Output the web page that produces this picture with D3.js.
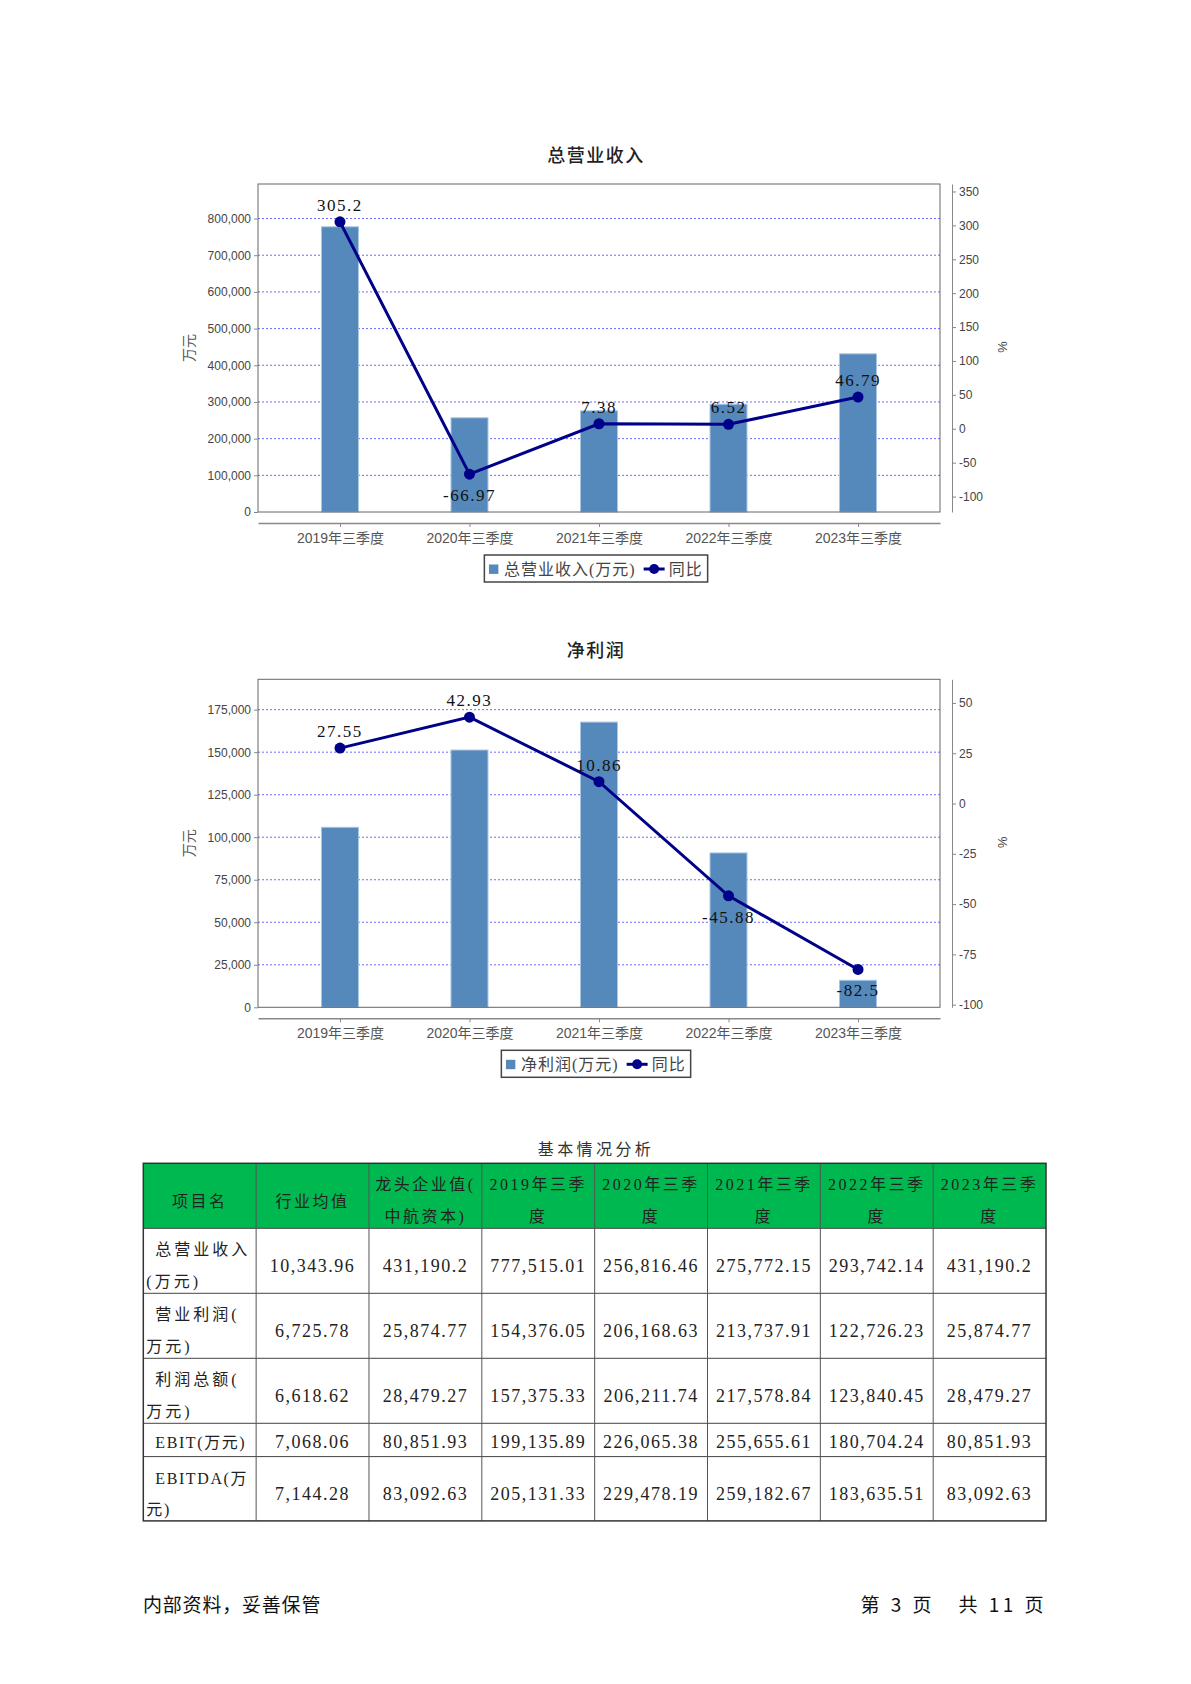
<!DOCTYPE html>
<html>
<head>
<meta charset="utf-8">
<script src="https://cdn.jsdelivr.net/npm/d3@7"></script>
<style>
  body { margin: 0; background: #fff; }
</style>
</head>
<body>
<div id="page"></div>
<script>
const width = 1191;
const height = 1684;

const categories = ["2019年三季度", "2020年三季度", "2021年三季度", "2022年三季度", "2023年三季度"];

const revenue = [777515.01, 256816.46, 275772.15, 293742.14, 431190.2];
const revenueYoY = [305.2, -66.97, 7.38, 6.52, 46.79];
const revenueTicks = [0, 100000, 200000, 300000, 400000, 500000, 600000, 700000, 800000];
const revenueYoYTicks = [-100, -50, 0, 50, 100, 150, 200, 250, 300, 350];

const netProfit = [105840, 151270, 167700, 90760, 15880];
const netProfitYoY = [27.55, 42.93, 10.86, -45.88, -82.5];
const netProfitTicks = [0, 25000, 50000, 75000, 100000, 125000, 150000, 175000];
const netProfitYoYTicks = [-100, -75, -50, -25, 0, 25, 50];

const tableTitle = "基本情况分析";
const tableHeader = ["项目名", "行业均值", "龙头企业值(\n中航资本)", "2019年三季\n度", "2020年三季\n度", "2021年三季\n度", "2022年三季\n度", "2023年三季\n度"];
const rowLabels = ["总营业收入\n(万元)", "营业利润(\n万元)", "利润总额(\n万元)", "EBIT(万元)", "EBITDA(万\n元)"];
const rowValues = [
    ["10,343.96", "431,190.2", "777,515.01", "256,816.46", "275,772.15", "293,742.14", "431,190.2"],
    ["6,725.78", "25,874.77", "154,376.05", "206,168.63", "213,737.91", "122,726.23", "25,874.77"],
    ["6,618.62", "28,479.27", "157,375.33", "206,211.74", "217,578.84", "123,840.45", "28,479.27"],
    ["7,068.06", "80,851.93", "199,135.89", "226,065.38", "255,655.61", "180,704.24", "80,851.93"],
    ["7,144.28", "83,092.63", "205,131.33", "229,478.19", "259,182.67", "183,635.51", "83,092.63"]
];

const SANS = "'Liberation Sans', 'Noto Sans CJK SC', sans-serif";
const CJK = "'Noto Sans CJK SC', sans-serif";
const SERIF = "'Liberation Serif', 'Noto Sans CJK SC', serif";

const svg = d3.select("#page")
    .append("svg")
    .attr("width", width)
    .attr("height", height);

function drawChart({ dy, title, barValues, yoyValues, leftTicks, rightTicks, barLabel }) {
    const left = 258, right = 940, top = 184 + dy, bottom = 512 + dy;
    const g = svg.append("g");

    const x = d3.scalePoint().domain(categories).range([left, right]).padding(0.633);
    const yBar = d3.scaleLinear().domain([0, d3.max(barValues) * 1.15]).range([bottom, top]);
    const [lo, hi] = d3.extent(yoyValues);
    const m = (hi - lo) * 0.15;
    const yPct = d3.scaleLinear().domain([lo - m, hi + m]).range([bottom, top]);

    g.append("text")
        .attr("x", 596).attr("y", 162 + dy)
        .attr("text-anchor", "middle")
        .attr("font-family", CJK).attr("font-size", 18)
        .attr("font-weight", 500)
        .attr("letter-spacing", 1.5)
        .attr("fill", "#222")
        .text(title);

    // gridlines
    g.selectAll(".grid")
        .data(leftTicks.filter(d => d > 0))
        .join("line")
        .attr("x1", left).attr("x2", right)
        .attr("y1", d => yBar(d)).attr("y2", d => yBar(d))
        .attr("stroke", "#6b6bff").attr("stroke-width", 1)
        .attr("stroke-dasharray", "2,2");

    // bars
    g.selectAll(".bar")
        .data(barValues)
        .join("rect")
        .attr("x", (d, i) => x(categories[i]) - 18.5)
        .attr("width", 37)
        .attr("y", d => yBar(d))
        .attr("height", d => bottom - yBar(d))
        .attr("fill", "#5588bb")
        .attr("stroke", "#a9c6e3").attr("stroke-width", 1);

    // plot frame
    g.append("rect")
        .attr("x", left).attr("y", top)
        .attr("width", right - left).attr("height", bottom - top)
        .attr("fill", "none").attr("stroke", "#666").attr("stroke-width", 1);

    // left axis
    const axL = g.append("g")
        .attr("transform", `translate(${left},0)`)
        .call(d3.axisLeft(yBar).tickValues(leftTicks).tickSize(4).tickSizeOuter(0).tickPadding(3)
            .tickFormat(d3.format(",")));
    axL.select(".domain").remove();
    axL.selectAll("line").attr("stroke", "#888");
    axL.selectAll("text").attr("font-family", SANS).attr("font-size", 12).attr("fill", "#444");

    // right axis
    const axR = g.append("g")
        .attr("transform", "translate(952,0)")
        .call(d3.axisRight(yPct).tickValues(rightTicks).tickSize(4).tickSizeOuter(0).tickPadding(3)
            .tickFormat(d => String(d)));
    axR.select(".domain").attr("stroke", "#888");
    axR.selectAll("line").attr("stroke", "#888");
    axR.selectAll("text").attr("font-family", SANS).attr("font-size", 12).attr("fill", "#444");

    // category axis
    const axX = g.append("g")
        .attr("transform", `translate(0,${bottom + 11})`)
        .call(d3.axisBottom(x).tickSize(4).tickSizeOuter(0).tickPadding(6));
    axX.select(".domain").attr("stroke", "#888").attr("stroke-width", 1.5);
    axX.selectAll("line").attr("stroke", "#888");
    axX.selectAll("text").attr("font-family", SANS).attr("font-size", 14).attr("fill", "#555");

    // axis titles
    g.append("text")
        .attr("transform", `translate(194,${348 + dy}) rotate(-90)`)
        .attr("text-anchor", "middle")
        .attr("font-family", CJK).attr("font-size", 14).attr("fill", "#555")
        .text("万元");
    g.append("text")
        .attr("transform", `translate(998,${347 + dy}) rotate(90)`)
        .attr("text-anchor", "middle")
        .attr("font-family", SANS).attr("font-size", 13).attr("fill", "#444")
        .text("%");

    // yoy line
    const line = d3.line()
        .x((d, i) => x(categories[i]))
        .y(d => yPct(d));
    g.append("path")
        .datum(yoyValues)
        .attr("d", line)
        .attr("fill", "none")
        .attr("stroke", "#000088").attr("stroke-width", 3);
    g.selectAll(".pt")
        .data(yoyValues)
        .join("circle")
        .attr("cx", (d, i) => x(categories[i]))
        .attr("cy", d => yPct(d))
        .attr("r", 5.5)
        .attr("fill", "#000088");
    g.selectAll(".lbl")
        .data(yoyValues)
        .join("text")
        .attr("x", (d, i) => x(categories[i]))
        .attr("y", d => d >= 0 ? yPct(d) - 11 : yPct(d) + 27)
        .attr("text-anchor", "middle")
        .attr("font-family", SERIF).attr("font-size", 17)
        .attr("letter-spacing", 1.5)
        .attr("fill", "#111")
        .text(d => String(d));

    // legend
    const lg = g.append("g");
    const boxTop = 555 + dy, boxH = 27;
    const t1 = lg.append("text")
        .attr("y", boxTop + 19.5)
        .attr("font-family", SERIF).attr("font-size", 16)
        .attr("letter-spacing", 1)
        .attr("fill", "#444")
        .text(barLabel);
    const t2 = lg.append("text")
        .attr("y", boxTop + 19.5)
        .attr("font-family", SERIF).attr("font-size", 16)
        .attr("letter-spacing", 1)
        .attr("fill", "#444")
        .text("同比");
    const w1 = t1.node().getComputedTextLength();
    const w2 = t2.node().getComputedTextLength();
    const totalW = 4.6 + 9.4 + 5.6 + w1 + 8 + 21 + 4 + w2 + 5;
    const bx = 596 - totalW / 2;
    lg.append("rect")
        .attr("x", bx).attr("y", boxTop)
        .attr("width", totalW).attr("height", boxH)
        .attr("fill", "none").attr("stroke", "#444").attr("stroke-width", 1.5);
    lg.append("rect")
        .attr("x", bx + 4.6).attr("y", boxTop + 9.5)
        .attr("width", 9.4).attr("height", 9.4)
        .attr("fill", "#5588bb");
    t1.attr("x", bx + 4.6 + 9.4 + 5.6);
    const lx = bx + 4.6 + 9.4 + 5.6 + w1 + 8;
    lg.append("line")
        .attr("x1", lx).attr("x2", lx + 21)
        .attr("y1", boxTop + 14).attr("y2", boxTop + 14)
        .attr("stroke", "#000088").attr("stroke-width", 3);
    lg.append("circle")
        .attr("cx", lx + 10.5).attr("cy", boxTop + 14).attr("r", 5)
        .attr("fill", "#000088");
    t2.attr("x", lx + 21 + 4);
}

drawChart({
    dy: 0,
    title: "总营业收入",
    barValues: revenue,
    yoyValues: revenueYoY,
    leftTicks: revenueTicks,
    rightTicks: revenueYoYTicks,
    barLabel: "总营业收入(万元)"
});

drawChart({
    dy: 495.3,
    title: "净利润",
    barValues: netProfit,
    yoyValues: netProfitYoY,
    leftTicks: netProfitTicks,
    rightTicks: netProfitYoYTicks,
    barLabel: "净利润(万元)"
});

// ---- table ----
const tLeft = 143.3, tTop = 1163.3, colW = 112.84;
const rowH = [65, 65, 65, 65, 33.3, 64.3];
const rowTops = [tTop];
rowH.forEach((h, i) => rowTops.push(rowTops[i] + h));
const tBottom = rowTops[rowTops.length - 1];
const tRight = tLeft + colW * tableHeader.length;

const tg = svg.append("g");

tg.append("text")
    .attr("x", 596).attr("y", 1155)
    .attr("text-anchor", "middle")
    .attr("font-family", CJK).attr("font-size", 16)
    .attr("letter-spacing", 3.4)
    .attr("fill", "#333")
    .text(tableTitle);

tg.append("rect")
    .attr("x", tLeft).attr("y", tTop)
    .attr("width", tRight - tLeft).attr("height", rowH[0])
    .attr("fill", "#00b850");

// header text
tableHeader.forEach((h, c) => {
    const lines = h.split("\n");
    const cx = tLeft + colW * c + colW / 2;
    lines.forEach((ln, k) => {
        const y = lines.length === 1 ? tTop + rowH[0] / 2 + 11 : tTop + 27 + k * 31.5;
        tg.append("text")
            .attr("x", cx).attr("y", y)
            .attr("text-anchor", "middle")
            .attr("font-family", SERIF).attr("font-size", 16)
            .attr("letter-spacing", 2.5)
            .attr("fill", "#222")
            .text(ln);
    });
});

// body rows
rowLabels.forEach((lab, r) => {
    const top = rowTops[r + 1], h = rowH[r + 1];
    const short = h < 40;
    const lines = lab.split("\n");
    const latin = /EBIT/.test(lab);
    lines.forEach((ln, k) => {
        const y = lines.length === 1 ? top + h / 2 + (short ? 8 : 11) : top + 27 + k * 31.5;
        tg.append("text")
            .attr("x", tLeft + (k === 0 ? 12 : 3))
            .attr("y", y)
            .attr("font-family", SERIF).attr("font-size", 16)
            .attr("letter-spacing", latin ? 1.6 : 3)
            .attr("fill", "#222")
            .text(ln);
    });
    rowValues[r].forEach((v, c) => {
        tg.append("text")
            .attr("x", tLeft + colW * (c + 1) + colW / 2)
            .attr("y", top + h / 2 + (short ? 8 : 11))
            .attr("text-anchor", "middle")
            .attr("font-family", SERIF).attr("font-size", 18)
            .attr("letter-spacing", 1.5)
            .attr("fill", "#222")
            .text(v);
    });
});

// grid lines
rowTops.slice(1, -1).forEach(y => {
    tg.append("line")
        .attr("x1", tLeft).attr("x2", tRight).attr("y1", y).attr("y2", y)
        .attr("stroke", "#444").attr("stroke-width", 1);
});
d3.range(1, tableHeader.length).forEach(c => {
    const xx = tLeft + colW * c;
    tg.append("line")
        .attr("x1", xx).attr("x2", xx).attr("y1", tTop).attr("y2", tBottom)
        .attr("stroke", "#555").attr("stroke-width", 1);
});
tg.append("rect")
    .attr("x", tLeft).attr("y", tTop)
    .attr("width", tRight - tLeft).attr("height", tBottom - tTop)
    .attr("fill", "none").attr("stroke", "#333").attr("stroke-width", 1.5);

// footer
svg.append("text")
    .attr("x", 143).attr("y", 1612)
    .attr("font-family", CJK).attr("font-size", 19)
    .attr("letter-spacing", 0.8)
    .attr("fill", "#111")
    .text("内部资料，妥善保管");
svg.append("text")
    .attr("x", 1047).attr("y", 1612)
    .attr("text-anchor", "end")
    .attr("font-family", CJK).attr("font-size", 19)
    .attr("letter-spacing", 3.5)
    .attr("fill", "#111")
    .text("第\u00a03\u00a0页\u00a0\u00a0\u00a0共\u00a011\u00a0页");
</script>
</body>
</html>
